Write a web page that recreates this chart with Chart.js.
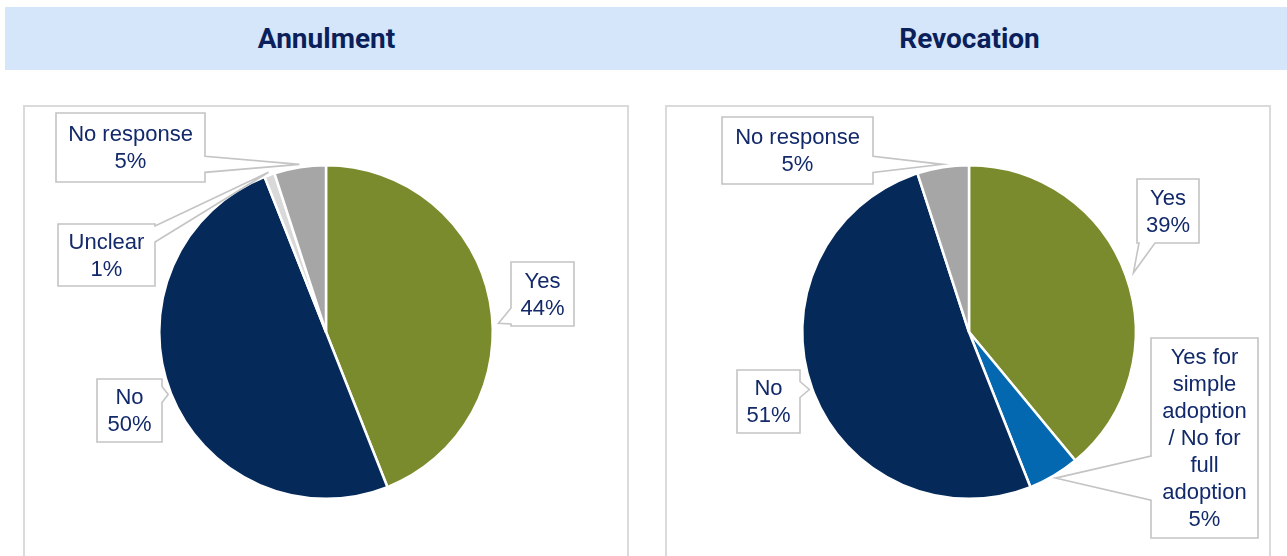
<!DOCTYPE html>
<html>
<head>
<meta charset="utf-8">
<script src="https://cdn.jsdelivr.net/npm/chart.js@4"></script>
<style>
  html, body { margin: 0; padding: 0; background: #fff; overflow: hidden; }
  body { width: 1287px; height: 556px; position: relative; font-family: "Liberation Sans", Arial, sans-serif; }
  .header { position: absolute; left: 5px; top: 7px; width: 1282px; height: 63px; background: #d5e6fb; }
  .title { position: absolute; top: 7px; height: 63px; line-height: 63px; width: 643px; text-align: center;
           font-family: Roboto, "Liberation Sans", sans-serif; font-weight: 700; font-size: 28px; color: #0b1f5a; }
  .frame { position: absolute; top: 105px; width: 602px; height: 480px; border: 2px solid #dadada; }
  canvas { position: absolute; top: 0; }
</style>
</head>
<body>
<div class="header"></div>
<div class="title" style="left:5px">Annulment</div>
<div class="title" style="left:648px">Revocation</div>
<div class="frame" style="left:23px"></div>
<div class="frame" style="left:665px"></div>
<canvas id="annulment" width="643" height="556" style="left:0"></canvas>
<canvas id="revocation" width="644" height="556" style="left:643px"></canvas>
<script>
// values (percent of responses)
const annulLabels = ['Yes', 'No', 'Unclear', 'No response'];
const annulValues = [44, 50, 1, 5];

const revocLabels = ['Yes', ['Yes for', 'simple', 'adoption', '/ No for', 'full', 'adoption'], 'No', 'No response'];
const revocValues = [39, 5, 51, 5];

const GREEN = '#7a8b2e', NAVY = '#052a5a', BLUE = '#0468b0', GRAY = '#a6a6a6', LIGHT = '#d9d9d9';

// callout boxes (canvas px); t = where along the slice the pointer aims
const annulBoxes = [
    { x: 511, y: 262, w: 63, h: 64, t: 0.55, d: 6 },
    { x: 97, y: 379, w: 65, h: 63, t: 0.5, d: 3 },
    { x: 58, y: 224, w: 97, h: 62, t: 0.5, d: 3 },
    { x: 56, y: 113, w: 149, h: 69, t: 0.5, d: 3 }
];
const revocBoxes = [
    { x: 494, y: 179, w: 62, h: 64, t: 0.5, d: 8 },
    { x: 508, y: 338, w: 107, h: 200, t: 0.5, d: 3 },
    { x: 94, y: 370, w: 63, h: 63, t: 0.5, d: 3 },
    { x: 79, y: 117, w: 151, h: 67, t: 0.5, d: 3 }
];

const calloutPlugin = {
    id: 'callouts',
    afterDatasetsDraw(chart, args, opts) {
        const ctx = chart.ctx;
        const meta = chart.getDatasetMeta(0);
        const values = chart.data.datasets[0].data;
        meta.data.forEach((arc, i) => {
            const b = opts.boxes[i];
            if (!b) return;
            const p = arc.getProps(['x', 'y', 'startAngle', 'endAngle', 'outerRadius'], true);
            const a = p.startAngle + b.t * (p.endAngle - p.startAngle);
            const tx = p.x + Math.cos(a) * (p.outerRadius + b.d);
            const ty = p.y + Math.sin(a) * (p.outerRadius + b.d);

            // which side of the box faces the tip
            const over = {
                left: b.x - tx, right: tx - (b.x + b.w),
                top: b.y - ty, bottom: ty - (b.y + b.h)
            };
            let side = 'left';
            for (const k in over) if (over[k] > over[side]) side = k;
            const vert = side === 'left' || side === 'right';
            const len = vert ? b.h : b.w;
            const half = Math.max(16, len * 0.22) / 2;
            const lo = (vert ? b.y : b.x) + half + 2, hi = (vert ? b.y + b.h : b.x + b.w) - half - 2;
            const c = Math.min(Math.max(vert ? ty : tx, lo), hi);

            const x0 = b.x, y0 = b.y, x1 = b.x + b.w, y1 = b.y + b.h;
            ctx.save();
            ctx.beginPath();
            ctx.moveTo(x0, y0);
            if (side === 'top') { ctx.lineTo(c - half, y0); ctx.lineTo(tx, ty); ctx.lineTo(c + half, y0); }
            ctx.lineTo(x1, y0);
            if (side === 'right') { ctx.lineTo(x1, c - half); ctx.lineTo(tx, ty); ctx.lineTo(x1, c + half); }
            ctx.lineTo(x1, y1);
            if (side === 'bottom') { ctx.lineTo(c + half, y1); ctx.lineTo(tx, ty); ctx.lineTo(c - half, y1); }
            ctx.lineTo(x0, y1);
            if (side === 'left') { ctx.lineTo(x0, c + half); ctx.lineTo(tx, ty); ctx.lineTo(x0, c - half); }
            ctx.closePath();
            ctx.fillStyle = '#fff';
            ctx.fill();
            ctx.strokeStyle = '#c4c4c4';
            ctx.lineWidth = 1.6;
            ctx.stroke();

            const label = chart.data.labels[i];
            const lines = (Array.isArray(label) ? label : [label]).concat(values[i] + '%');
            const lh = 27;
            ctx.fillStyle = '#12296a';
            ctx.font = '22px "Liberation Sans", Arial, sans-serif';
            ctx.textAlign = 'center';
            ctx.textBaseline = 'middle';
            const cy = b.y + b.h / 2 - (lines.length - 1) * lh / 2 + 1;
            lines.forEach((ln, j) => ctx.fillText(ln, b.x + b.w / 2, cy + j * lh));
            ctx.restore();
        });
    }
};

function makePie(id, labels, values, colors, boxes, padRight) {
    return new Chart(document.getElementById(id), {
        type: 'pie',
        data: {
            labels: labels,
            datasets: [{
                data: values,
                backgroundColor: colors,
                borderColor: '#ffffff',
                borderWidth: 2.5
            }]
        },
        options: {
            responsive: false,
            animation: false,
            layout: { padding: { left: 158, top: 164, right: padRight, bottom: 56 } },
            plugins: {
                legend: { display: false },
                tooltip: { enabled: false },
                callouts: { boxes: boxes }
            }
        },
        plugins: [calloutPlugin]
    });
}

makePie('annulment', annulLabels, annulValues, [GREEN, NAVY, LIGHT, GRAY], annulBoxes, 149);
makePie('revocation', revocLabels, revocValues, [GREEN, BLUE, NAVY, GRAY], revocBoxes, 150);
</script>
</body>
</html>
